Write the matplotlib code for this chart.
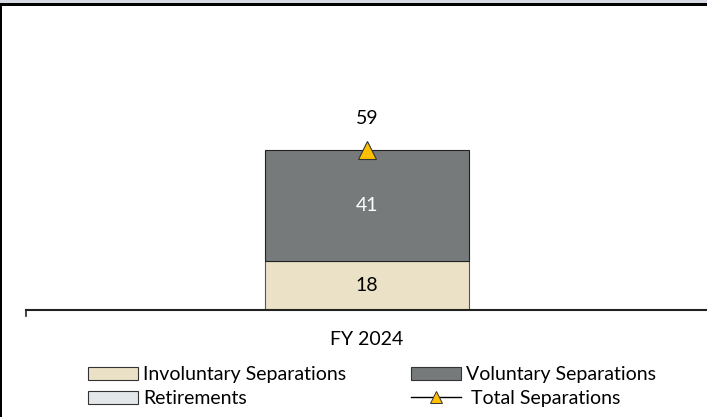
import matplotlib
matplotlib.use("Agg")
import matplotlib.pyplot as plt
from matplotlib.patches import Patch, Rectangle
from matplotlib.lines import Line2D

plt.rcParams['font.family'] = ['Lato', 'DejaVu Sans']

categories = ["FY 2024"]
involuntary = [18]
voluntary = [41]
retirements = [0]
total = [59]

c_inv = "#ebe1c6"
c_vol = "#767a7b"
c_ret = "#e3e7ea"
c_tot = "#ffc000"

FS = 14
fig = plt.figure(figsize=(7.07, 4.17), dpi=100)
W, H = 707, 417
base_px = 310
top_px = 6
ax = fig.add_axes([26 / W, (H - base_px) / H, 1 - 26 / W, (base_px - top_px) / H])

px_per_unit = 160 / 59.0
ax.set_ylim(0, (base_px - top_px) / px_per_unit)
# shift so that bar center lands at x=367px
ax.set_xlim(-(367 - 26) / 681, (707 - 367) / 681)

x = list(range(len(categories)))
bw = 204 / 681
ax.bar(x, involuntary, width=bw, color=c_inv, edgecolor="#555555", linewidth=0.8, zorder=2)
bottom2 = [a for a in involuntary]
ax.bar(x, voluntary, width=bw, bottom=bottom2, color=c_vol, edgecolor="#222222", linewidth=0.8, zorder=2)
bottom3 = [a + b for a, b in zip(involuntary, voluntary)]
ax.bar(x, retirements, width=bw, bottom=bottom3, color=c_ret, edgecolor="#555555", linewidth=0.0, zorder=2)
ax.plot(x, total, linestyle="-", color="black", marker="^", markersize=13,
        markerfacecolor=c_tot, markeredgecolor="#333333", markeredgewidth=0.8, zorder=3)

for i in x:
    ax.text(i, involuntary[i] / 2, str(involuntary[i]), ha="center", va="center",
            fontsize=FS, color="black", zorder=4)
    ax.text(i, involuntary[i] + voluntary[i] / 2, str(voluntary[i]), ha="center", va="center",
            fontsize=FS, color="white", zorder=4)
    ax.annotate(str(total[i]), (i, total[i]), xytext=(0, 23), textcoords="offset points",
                ha="center", va="center", fontsize=FS, color="black")

for s in ["top", "right", "left"]:
    ax.spines[s].set_visible(False)
ax.spines["bottom"].set_color("#222222")
ax.spines["bottom"].set_linewidth(1.5)
ax.set_yticks([])
ax.set_xticks(x)
ax.set_xticklabels(categories, fontsize=FS)
ax.tick_params(axis="x", length=0, pad=15)
# left tick mark at axis start
x0 = ax.get_xlim()[0]
ax.plot([x0, x0], [0, -6 / px_per_unit], color="#222222", linewidth=1.2, clip_on=False)

handles = [
    Patch(facecolor=c_inv, edgecolor="#333333", linewidth=0.8),
    Patch(facecolor=c_ret, edgecolor="#333333", linewidth=0.8),
    Patch(facecolor=c_vol, edgecolor="#333333", linewidth=0.8),
    Line2D([0], [0], color="black", linewidth=1, marker="^", markersize=8,
           markerfacecolor=c_tot, markeredgecolor="#333333", markeredgewidth=0.7),
]
labels = ["Involuntary Separations", "Retirements", "Voluntary Separations", " Total Separations"]
fig.legend(handles, labels, ncol=2, loc="center", bbox_to_anchor=(372 / W, 1 - 386.5 / H),
           frameon=False, fontsize=FS, handlelength=2.6, handleheight=0.65, handletextpad=0.25,
           columnspacing=3.3, labelspacing=0.35, borderaxespad=0)

# frame decorations: top band, thick top line, left border
fig.patches.append(Rectangle((0, 1 - 3 / H), 1, 3 / H, transform=fig.transFigure,
                             facecolor="#d5dae3", edgecolor="none", zorder=0))
fig.patches.append(Rectangle((0, 1 - 6 / H), 1, 3 / H, transform=fig.transFigure,
                             facecolor="black", edgecolor="none", zorder=1))
fig.patches.append(Rectangle((0, 0), 2 / W, 1 - 5 / H, transform=fig.transFigure,
                             facecolor="black", edgecolor="none", zorder=1))

fig.savefig("out.png", dpi=100)
